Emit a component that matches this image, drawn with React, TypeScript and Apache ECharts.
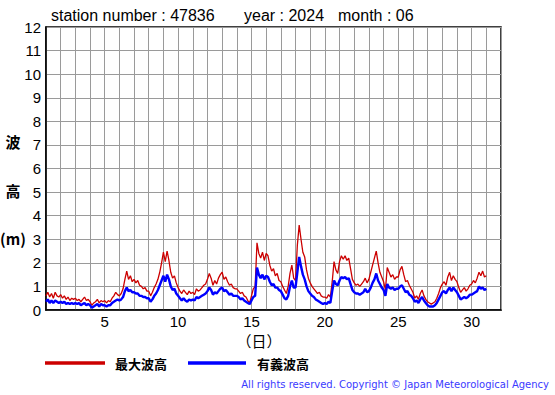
import React, { useEffect, useRef } from "react";
import * as echarts from "echarts";

// station / period
const stationNumber = "47836";
const year = "2024";
const month = "06";

// 3-hourly values per day (June 1 .. 30), metres
const maxWave: number[][] = [
  [0.6, 0.75, 0.55, 0.7, 0.5, 0.75, 0.6, 0.55],
  [0.65, 0.5, 0.6, 0.45, 0.55, 0.4, 0.5, 0.45],
  [0.5, 0.4, 0.45, 0.35, 0.45, 0.55, 0.4, 0.45],
  [0.35, 0.2, 0.3, 0.35, 0.45, 0.3, 0.4, 0.35],
  [0.4, 0.3, 0.4, 0.35, 0.5, 0.6, 0.75, 0.65],
  [0.6, 0.7, 0.9, 1.3, 1.65, 1.3, 1.45, 1.2],
  [1.3, 1.15, 1.25, 1.05, 1.0, 0.9, 0.95, 0.8],
  [0.8, 0.6, 0.75, 0.95, 1.1, 1.3, 1.6, 2.0],
  [2.45, 2.05, 2.5, 2.1, 1.6, 1.35, 1.45, 1.15],
  [0.95, 0.8, 0.7, 0.85, 0.75, 0.65, 0.8, 0.7],
  [0.75, 0.65, 0.9, 0.8, 0.85, 0.95, 1.05, 1.1],
  [1.3, 1.55, 1.35, 1.05, 1.25, 1.1, 1.35, 1.5],
  [1.6, 1.3, 1.4, 1.2, 1.05, 1.1, 0.95, 0.9],
  [0.9, 0.8, 0.7, 0.75, 0.6, 0.55, 0.4, 0.3],
  [0.6, 0.9, 1.0, 2.85, 2.4, 2.2, 2.45, 2.1],
  [2.4, 2.3, 1.9, 1.65, 1.75, 1.45, 1.55, 1.25],
  [1.2, 1.0, 0.85, 0.7, 1.0, 1.55, 1.9, 1.35],
  [1.25, 2.75, 3.6, 3.0, 2.45, 2.25, 1.7, 1.35],
  [1.15, 1.0, 0.9, 0.8, 0.7, 0.75, 0.6, 0.55],
  [0.55, 0.5, 0.65, 0.55, 1.2, 2.05, 1.7, 1.55],
  [2.05, 2.3, 2.15, 2.3, 2.1, 2.2, 1.75, 1.3],
  [1.15, 1.05, 1.1, 1.0, 1.1, 1.2, 1.35, 1.15],
  [1.3, 1.6, 1.9, 2.2, 2.5, 2.0, 1.6, 1.4],
  [1.2, 0.85, 1.8, 1.6, 1.4, 1.5, 1.3, 1.4],
  [1.4, 1.7, 1.85, 1.5, 1.2, 1.25, 1.05, 0.9],
  [0.75, 0.5, 0.6, 0.45, 0.7, 0.85, 0.6, 0.45],
  [0.35, 0.3, 0.25, 0.3, 0.35, 0.5, 0.7, 0.95],
  [1.1, 1.2, 1.05, 1.4, 1.6, 1.25, 1.45, 1.3],
  [1.2, 0.95, 0.75, 0.85, 0.95, 0.8, 0.9, 1.05],
  [1.1, 1.25, 1.15, 1.35, 1.6, 1.45, 1.65, 1.4],
];
const maxWaveLast = 1.45;

const sigWave: number[][] = [
  [0.35, 0.45, 0.3, 0.4, 0.3, 0.4, 0.35, 0.3],
  [0.35, 0.3, 0.35, 0.25, 0.3, 0.25, 0.3, 0.25],
  [0.3, 0.25, 0.3, 0.2, 0.25, 0.3, 0.2, 0.25],
  [0.2, 0.1, 0.15, 0.2, 0.25, 0.15, 0.25, 0.2],
  [0.2, 0.15, 0.2, 0.2, 0.3, 0.35, 0.4, 0.45],
  [0.4, 0.45, 0.55, 0.8, 0.95, 0.8, 0.85, 0.75],
  [0.75, 0.7, 0.7, 0.6, 0.6, 0.55, 0.55, 0.5],
  [0.5, 0.35, 0.45, 0.6, 0.7, 0.85, 1.05, 1.25],
  [1.45, 1.2, 1.5, 1.3, 1.0, 0.85, 0.9, 0.7],
  [0.6, 0.5, 0.4, 0.5, 0.4, 0.35, 0.45, 0.4],
  [0.45, 0.4, 0.55, 0.5, 0.55, 0.6, 0.65, 0.7],
  [0.8, 0.95, 0.85, 0.65, 0.75, 0.7, 0.8, 0.9],
  [0.95, 0.8, 0.85, 0.75, 0.65, 0.7, 0.6, 0.6],
  [0.6, 0.55, 0.45, 0.5, 0.4, 0.35, 0.3, 0.25],
  [0.4, 0.55, 0.6, 1.8, 1.5, 1.35, 1.5, 1.3],
  [1.45, 1.4, 1.2, 1.05, 1.1, 0.95, 0.95, 0.85],
  [0.8, 0.65, 0.5, 0.45, 0.6, 1.0, 1.25, 0.95],
  [0.95, 1.6, 2.25, 1.85, 1.5, 1.3, 1.0, 0.8],
  [0.7, 0.6, 0.55, 0.45, 0.4, 0.35, 0.3, 0.25],
  [0.3, 0.25, 0.35, 0.3, 0.8, 1.25, 1.1, 1.05],
  [1.25, 1.4, 1.35, 1.4, 1.3, 1.35, 1.1, 0.85],
  [0.75, 0.7, 0.7, 0.65, 0.7, 0.75, 0.9, 0.75],
  [0.8, 0.95, 1.15, 1.3, 1.55, 1.25, 1.1, 0.95],
  [0.85, 0.6, 1.1, 0.95, 0.9, 0.95, 0.85, 0.9],
  [0.9, 1.0, 1.05, 0.9, 0.75, 0.8, 0.65, 0.6],
  [0.5, 0.35, 0.4, 0.3, 0.45, 0.55, 0.4, 0.3],
  [0.2, 0.15, 0.15, 0.15, 0.2, 0.3, 0.45, 0.6],
  [0.75, 0.8, 0.7, 0.85, 0.95, 0.8, 0.95, 0.85],
  [0.75, 0.6, 0.45, 0.5, 0.55, 0.5, 0.55, 0.65],
  [0.65, 0.7, 0.75, 0.8, 1.0, 0.9, 0.95, 0.85],
];
const sigWaveLast = 0.9;

const seriesNames = ["最大波高", "有義波高"];
const xLabelDays = [5, 10, 15, 20, 25, 30];

function toPairs(days: number[][], last: number): [number, number][] {
  const out: [number, number][] = [];
  days.forEach((vals, d) => {
    vals.forEach((v, i) => out.push([d + 1 + i / vals.length, v]));
  });
  out.push([days.length + 1, last]);
  return out;
}

const JP = '"Noto Sans CJK JP", sans-serif';
const SANS = '"Liberation Sans", Arial, sans-serif';

export default function App() {
  const ref = useRef<HTMLDivElement>(null);
  useEffect(() => {
    if (!ref.current) return;
    const chart = echarts.init(ref.current, null, { renderer: "svg" });
    const redColor = "#cc0000";
    const blueColor = "#0000ff";
    chart.setOption({
      animation: false,
      backgroundColor: "#ffffff",
      grid: {
        left: 46,
        top: 27,
        width: 455,
        height: 283,
        show: true,
        borderColor: "#000",
        borderWidth: 1.5,
        backgroundColor: "transparent",
      },
      xAxis: {
        type: "value",
        min: 1,
        max: 32,
        interval: 1,
        axisLine: { show: true, lineStyle: { color: "#000", width: 1.5 } },
        axisTick: { show: false },
        axisLabel: {
          color: "#000",
          fontSize: 15,
          lineHeight: 15,
          fontFamily: SANS,
          margin: 4,
          formatter: (v: number) => (xLabelDays.includes(v) ? String(v) : ""),
        },
        splitLine: { show: true, lineStyle: { color: "#9a9a9a", width: 1 } },
      },
      yAxis: {
        type: "value",
        min: 0,
        max: 12,
        interval: 1,
        axisLine: { show: true, lineStyle: { color: "#000", width: 1.5 } },
        axisTick: { show: false },
        axisLabel: { color: "#000", fontSize: 15, fontFamily: SANS, margin: 5 },
        splitLine: { show: true, lineStyle: { color: "#9a9a9a", width: 1 } },
      },
      series: [
        {
          name: seriesNames[0],
          type: "line",
          showSymbol: false,
          data: toPairs(maxWave, maxWaveLast),
          lineStyle: { color: redColor, width: 1.3 },
          itemStyle: { color: redColor },
          z: 3,
        },
        {
          name: seriesNames[1],
          type: "line",
          showSymbol: false,
          data: toPairs(sigWave, sigWaveLast),
          lineStyle: { color: blueColor, width: 2.4 },
          itemStyle: { color: blueColor },
          z: 4,
        },
      ],
      graphic: [
        { type: "text", x: 51, y: 15, style: { text: "station number : " + stationNumber, fontSize: 16, fontFamily: SANS, fill: "#000", verticalAlign: "middle" } },
        { type: "text", x: 244, y: 15, style: { text: "year : " + year, fontSize: 16, fontFamily: SANS, fill: "#000", verticalAlign: "middle" } },
        { type: "text", x: 338, y: 15, style: { text: "month : " + month, fontSize: 16, fontFamily: SANS, fill: "#000", verticalAlign: "middle" } },
        { type: "text", x: 13, y: 141, style: { text: "波", fontSize: 15, fontFamily: JP, fill: "#000", align: "center", verticalAlign: "middle", fontWeight: "bold" } },
        { type: "text", x: 13, y: 190, style: { text: "高", fontSize: 15, fontFamily: JP, fill: "#000", align: "center", verticalAlign: "middle", fontWeight: "bold" } },
        { type: "text", x: 13, y: 238, style: { text: "(m)", fontSize: 15, fontFamily: JP, fill: "#000", align: "center", verticalAlign: "middle", fontWeight: "bold" } },
        { type: "text", x: 259, y: 340, style: { text: "（日）", fontSize: 15, lineHeight: 14, fontFamily: JP, fill: "#000", align: "center", verticalAlign: "middle" } },
        { type: "line", shape: { x1: 45, y1: 363, x2: 105, y2: 363 }, style: { stroke: redColor, lineWidth: 3.5 } },
        { type: "text", x: 115, y: 363, style: { text: seriesNames[0], fontSize: 13, fontFamily: JP, fontWeight: "bold", fill: "#000", verticalAlign: "middle" } },
        { type: "line", shape: { x1: 188, y1: 363, x2: 246, y2: 363 }, style: { stroke: blueColor, lineWidth: 3.5 } },
        { type: "text", x: 257, y: 363, style: { text: seriesNames[1], fontSize: 13, fontFamily: JP, fontWeight: "bold", fill: "#000", verticalAlign: "middle" } },
        { type: "text", x: 549, y: 384, style: { text: "All rights reserved. Copyright © Japan Meteorological Agency", fontSize: 10, fontFamily: '"DejaVu Sans", sans-serif', fill: "#3a3aff", align: "right", verticalAlign: "middle" } },
      ],
    });
    return () => chart.dispose();
  }, []);
  return (
    <div
      ref={ref}
      style={{ position: "fixed", left: 0, top: 0, width: 555, height: 395, background: "#fff" }}
    />
  );
}
